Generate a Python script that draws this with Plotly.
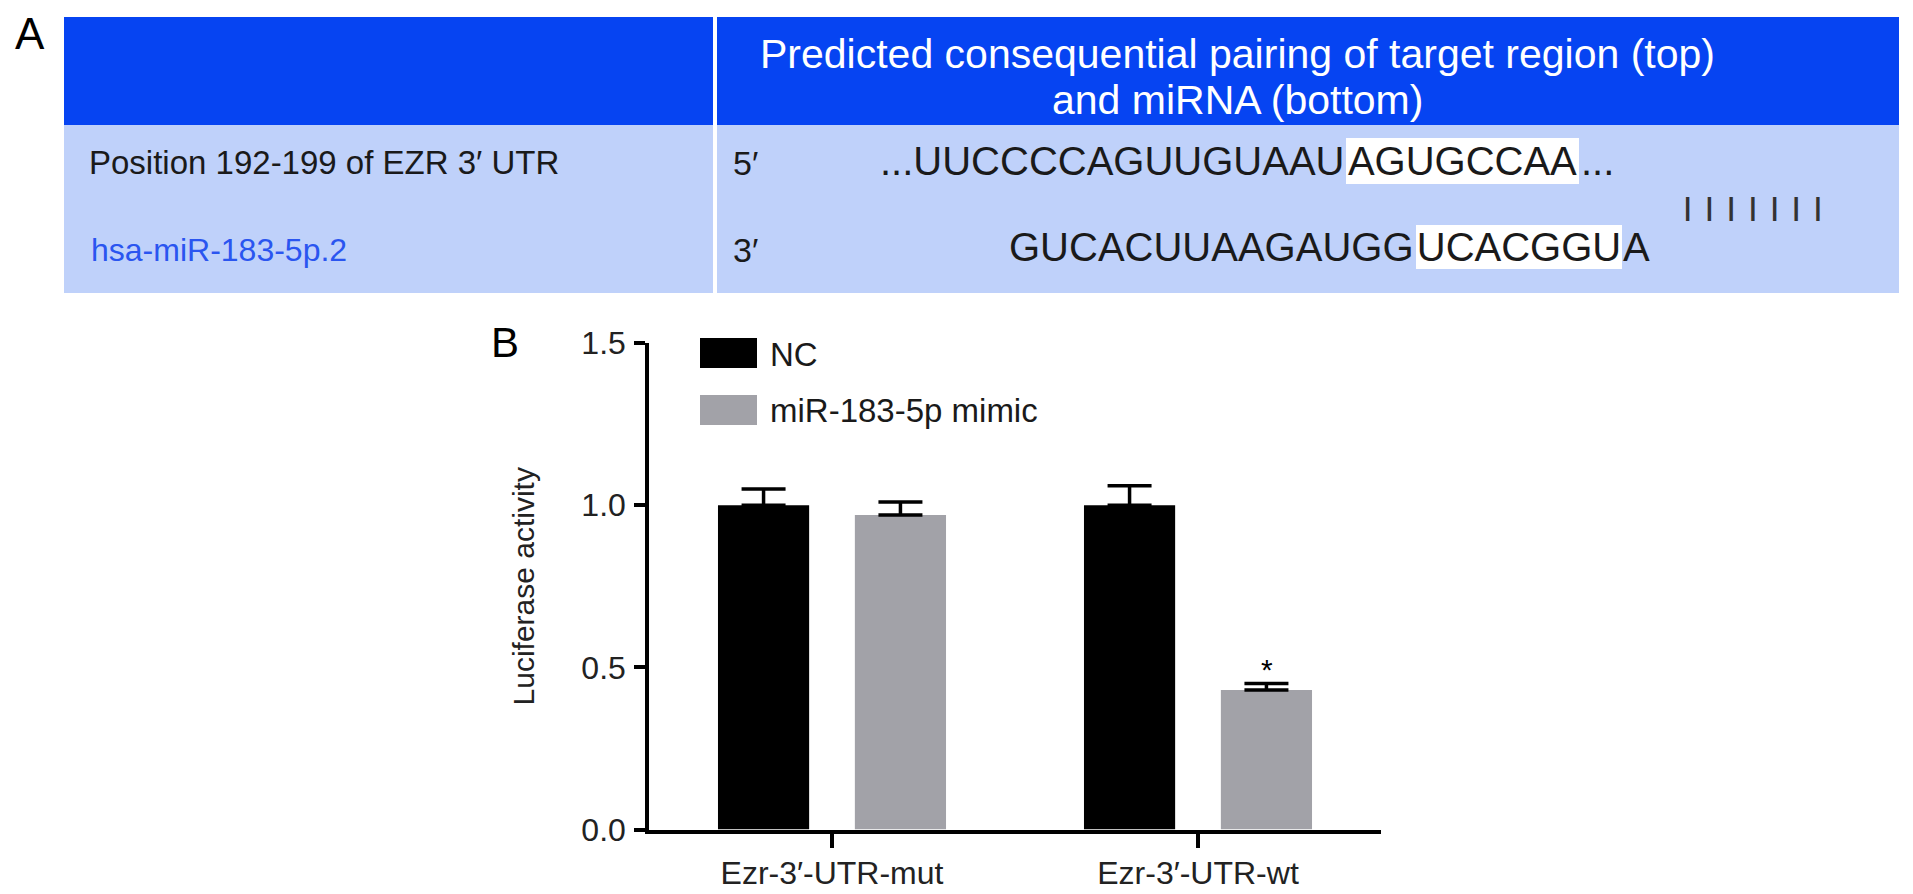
import plotly.graph_objects as go

W, H = 1913, 894
FONT = "Liberation Sans, Arial, Helvetica, sans-serif"

# ---- panel B data ----
categories = ["Ezr-3′-UTR-mut", "Ezr-3′-UTR-wt"]
series_names = ["NC", "miR-183-5p mimic"]
nc_values = [1.00, 1.00]
nc_err = [0.05, 0.06]
mimic_values = [0.97, 0.43]
mimic_err = [0.04, 0.02]
y_ticks = [0.0, 0.5, 1.0, 1.5]
y_tick_labels = ["0.0", "0.5", "1.0", "1.5"]
significance = ["", "*"]

# ---- panel A table text ----
header_lines = ["Predicted consequential pairing of target region (top)", "and miRNA (bottom)"]
row_labels = ["Position 192-199 of EZR 3′ UTR", "hsa-miR-183-5p.2"]
row_ends = ["5′", "3′"]
target_seq = ["...UUCCCCAGUUGUAAU", "AGUGCCAA", "..."]   # before / seed match / after
mirna_seq = ["GUCACUUAAGAUGG", "UCACGGU", "A"]
n_pairs = 7

NC_COLOR = "#000000"
MIMIC_COLOR = "#a2a2a8"
HEAD_BLUE = "#0644f2"
BODY_BLUE = "#bfd1fa"


def px(x):
    return x / W


def py(y):
    return 1 - y / H


def note(text, x, y, size, color="#1a1a1a", xanchor="left", **kw):
    return dict(text=text, x=px(x), y=py(y), xref="paper", yref="paper",
                xanchor=xanchor, yanchor="middle", showarrow=False,
                font=dict(family=FONT, size=size, color=color), **kw)


fig = go.Figure()

fig.add_trace(go.Bar(
    x=categories, y=nc_values, name=series_names[0],
    marker=dict(color=NC_COLOR, line=dict(width=0)),
    error_y=dict(type="data", symmetric=False, array=nc_err, arrayminus=[0] * len(nc_err),
                 color="black", thickness=3.5, width=22),
    showlegend=False,
))
fig.add_trace(go.Bar(
    x=categories, y=mimic_values, name=series_names[1],
    marker=dict(color=MIMIC_COLOR, line=dict(width=0)),
    error_y=dict(type="data", symmetric=False, array=mimic_err, arrayminus=[0] * len(mimic_err),
                 color="black", thickness=3.5, width=22),
    showlegend=False,
))

# ---- panel A: table background ----
shapes = [
    dict(type="rect", xref="paper", yref="paper", x0=px(64), x1=px(1899), y0=py(125), y1=py(17),
         fillcolor=HEAD_BLUE, line=dict(width=0), layer="below"),
    dict(type="rect", xref="paper", yref="paper", x0=px(64), x1=px(1899), y0=py(293), y1=py(125),
         fillcolor=BODY_BLUE, line=dict(width=0), layer="below"),
    dict(type="line", xref="paper", yref="paper", x0=px(715), x1=px(715), y0=py(293), y1=py(17),
         line=dict(color="white", width=4)),
    # legend swatches
    dict(type="rect", xref="paper", yref="paper", x0=px(700), x1=px(757), y0=py(368), y1=py(338),
         fillcolor=NC_COLOR, line=dict(width=0)),
    dict(type="rect", xref="paper", yref="paper", x0=px(700), x1=px(757), y0=py(425), y1=py(395),
         fillcolor=MIMIC_COLOR, line=dict(width=0)),
]

annotations = [
    note("A", 13, 33, 44, color="black"),
    note("B", 489, 342, 42, color="black"),
    note(header_lines[0], 1237, 54, 41, color="white", xanchor="center"),
    note(header_lines[1], 1237, 100, 41, color="white", xanchor="center"),
    note(row_labels[0], 87, 163, 33),
    note(row_labels[1], 89, 250, 32, color="#2a55f0"),
    note(row_ends[0], 731, 163, 34),
    note(row_ends[1], 731, 250, 34),
    # target (top) sequence
    note(target_seq[0], 1346, 161, 40, xanchor="right"),
    note(target_seq[1], 1346, 161, 40, bgcolor="white", width=233, height=46,
         borderpad=0, borderwidth=0),
    note(target_seq[2], 1579, 161, 40),
    # miRNA (bottom) sequence
    note(mirna_seq[0], 1416, 247, 40, xanchor="right"),
    note(mirna_seq[1], 1416, 247, 40, bgcolor="white", width=206, height=44,
         borderpad=0, borderwidth=0),
    note(mirna_seq[2], 1621, 247, 40),
    # pairing bars
    note("<b>" + "\u00a0\u00a0".join(["|"] * n_pairs) + "</b>", 1753, 207, 26,
         color="#333333", xanchor="center"),
    # custom legend
    note(series_names[0], 768, 354, 33),
    note(series_names[1], 768, 410, 33),
]

# significance marks above the mimic bars
for cat, v, e, s in zip(categories, mimic_values, mimic_err, significance):
    if s:
        annotations.append(dict(text=s, x=cat, y=v + e, xref="x", yref="y",
                                xshift=68.5, yshift=-4, yanchor="bottom", showarrow=False,
                                font=dict(family=FONT, size=30, color="black")))

fig.update_layout(
    width=W, height=H,
    margin=dict(l=0, r=0, t=0, b=0),
    paper_bgcolor="white", plot_bgcolor="white",
    barmode="group", bargap=0.252, bargroupgap=0.334,
    font=dict(family=FONT, color="#1a1a1a"),
    shapes=shapes, annotations=annotations,
    showlegend=False,
)

fig.update_xaxes(
    domain=[px(649), px(1381)], range=[-0.5, 1.5],
    showline=True, linecolor="black", linewidth=3.5,
    ticks="outside", ticklen=15, tickwidth=3.5, tickcolor="black",
    tickfont=dict(size=32, color="#222222"), ticklabelstandoff=-3,
    showgrid=False, zeroline=False, automargin=False,
)
fig.update_yaxes(
    domain=[py(829.5), py(343)], range=[0, 1.5],
    tickvals=y_ticks, ticktext=y_tick_labels,
    showline=True, linecolor="black", linewidth=3.5,
    ticks="outside", ticklen=11, tickwidth=3.5, tickcolor="black",
    tickfont=dict(size=32, color="#222222"), ticklabelstandoff=2,
    title=dict(text="Luciferase activity", font=dict(size=30, color="#222222"), standoff=39),
    showgrid=False, zeroline=False, automargin=False,
)

fig.write_html("out.html", config={"displayModeBar": False},
               post_script="document.body.style.margin='0px';")
